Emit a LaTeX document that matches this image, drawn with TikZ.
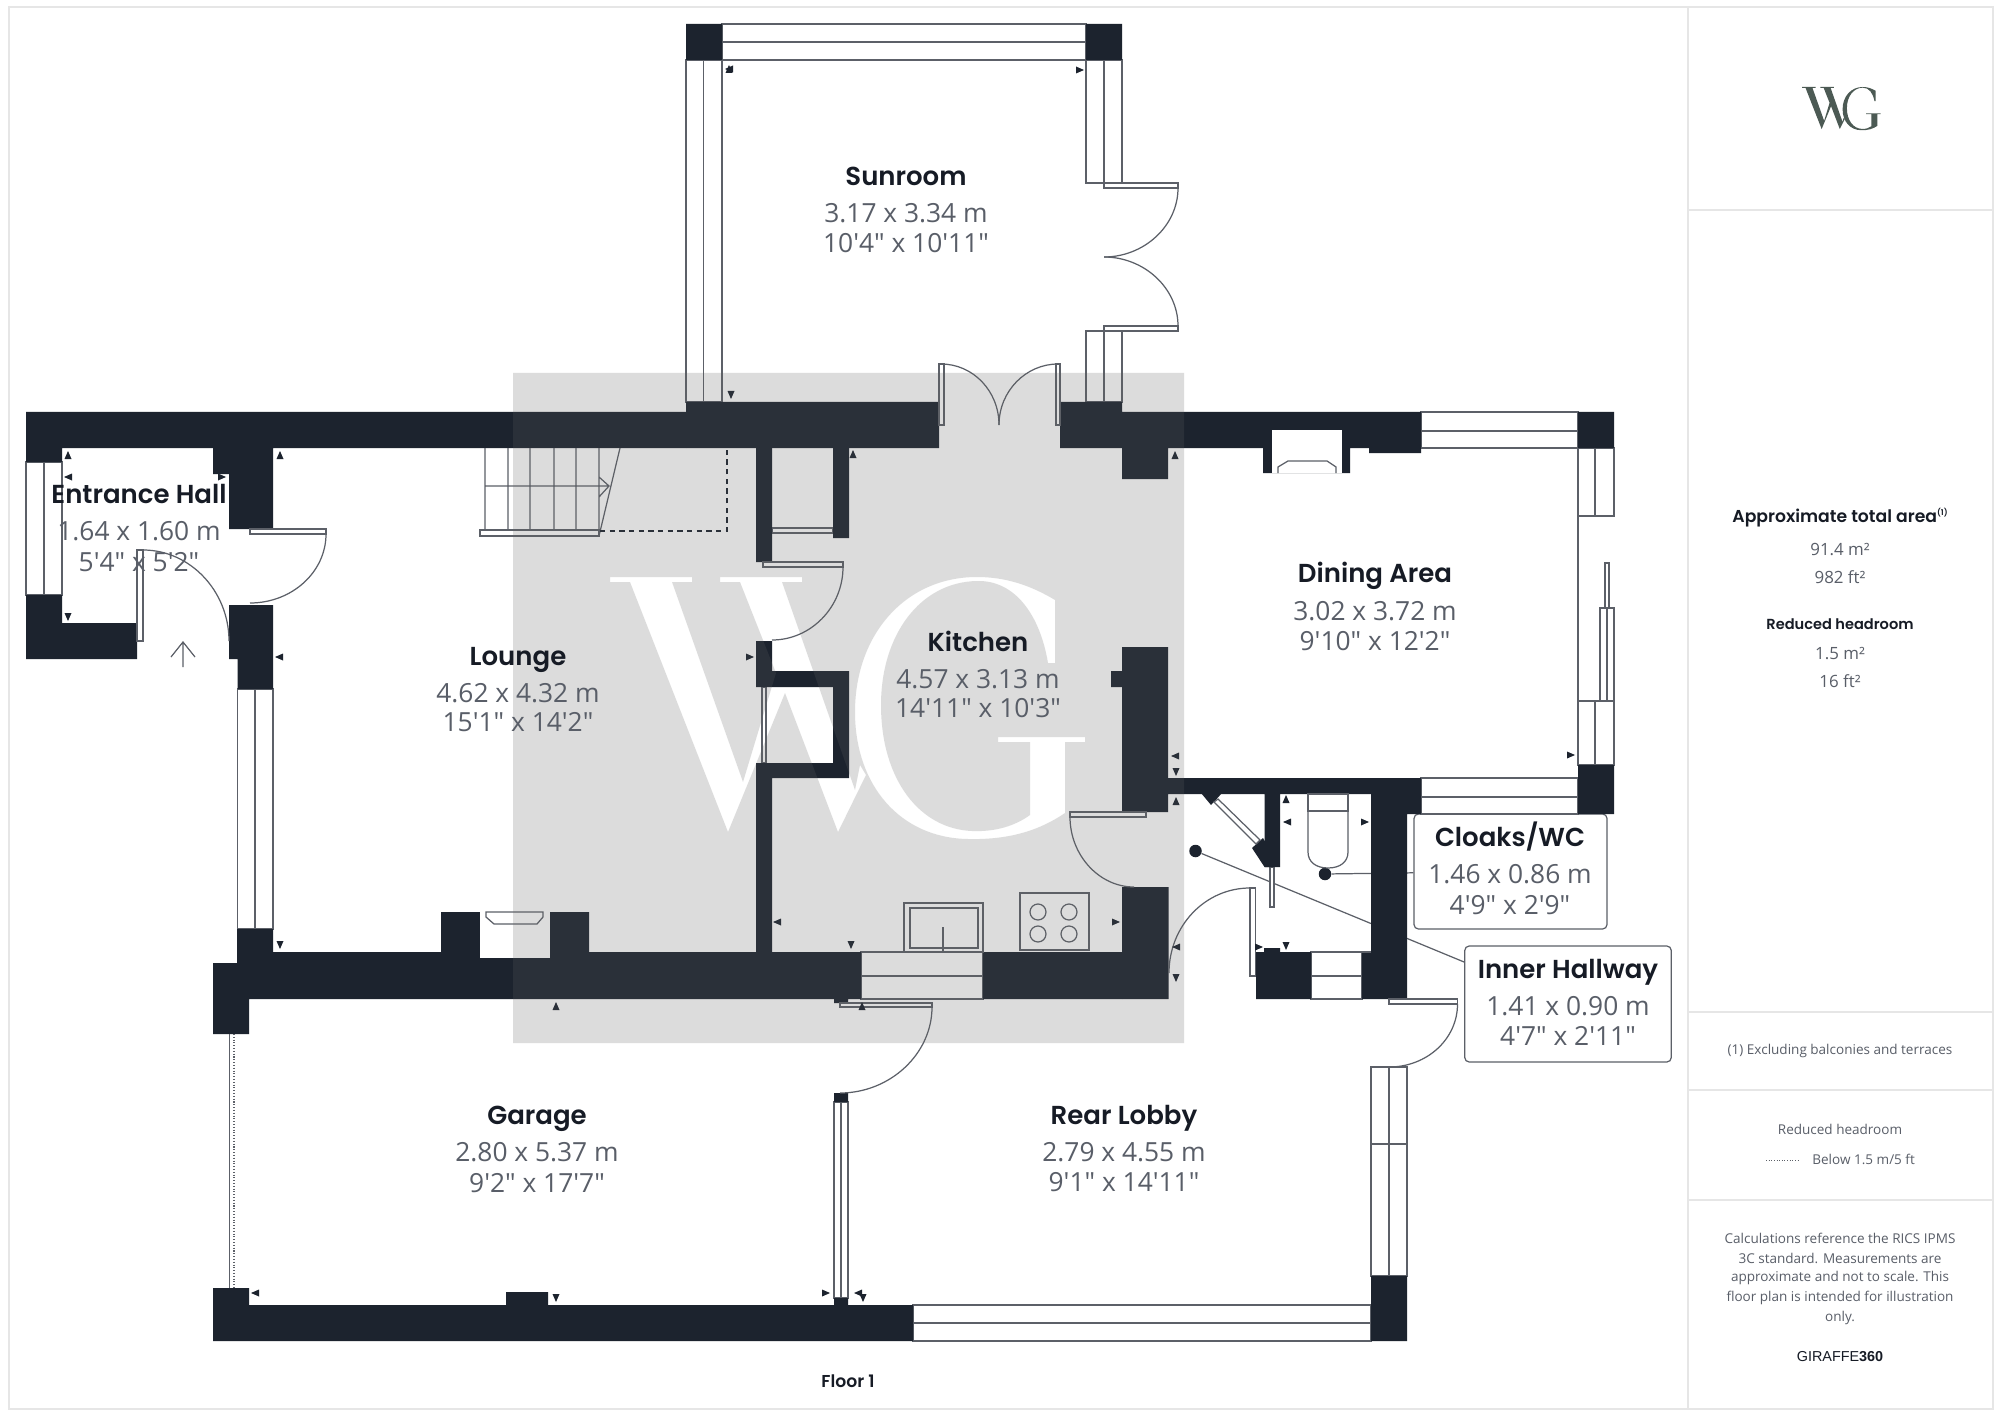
\documentclass[tikz,border=0pt]{standalone}
\usepackage{fontspec}
\usepackage{xcolor}
\usepackage{tikz}
\setmainfont{Open Sans}[Ligatures=TeXOff]
\newfontfamily\headfont{Poppins}[BoldFont={Poppins SemiBold}]
\newfontfamily\brandfont{Liberation Sans}
\definecolor{wallc}{HTML}{1C232E}
\definecolor{linec}{HTML}{5C6068}
\definecolor{framec}{HTML}{E6E6E6}
\definecolor{namec}{HTML}{161B25}
\definecolor{sizec}{HTML}{595E68}
\definecolor{shadec}{HTML}{616161}
\definecolor{logoc}{HTML}{4C5A54}
\tikzset{
  wall/.style={fill=wallc, draw=none},
  win/.style={draw=linec, line width=0.7pt, fill=white},
  doorline/.style={draw=linec, line width=0.7pt},
  frameline/.style={draw=framec, line width=1pt},
  roomname/.style={text=namec, inner sep=0pt, text height=10.6pt, text depth=0pt, font=\headfont\bfseries\fontsize{14.8}{16}\selectfont},
  roomsize/.style={text=sizec, inner sep=0pt, font=\fontsize{15}{17}\selectfont},
  panelname/.style={text=namec, inner sep=0pt, text height=7pt, text depth=0pt, font=\headfont\bfseries\fontsize{9.8}{11}\selectfont},
  paneltext/.style={text=sizec, inner sep=0pt, text height=7pt, text depth=0pt, font=\fontsize{9.6}{11}\selectfont},
  panelnote/.style={text=sizec, inner sep=0pt, font=\fontsize{7.7}{9}\selectfont},
  labbox/.style={draw=linec, line width=0.7pt, fill=white, rounded corners=2.5pt, inner sep=0pt},
  fixdot/.style={circle, fill=wallc, inner sep=0pt, minimum size=0.25cm}
}
\newcommand{\tipup}[2]{\fill[wall] (#1,#2-4) -- (#1+3.5,#2+4) -- (#1-3.5,#2+4) -- cycle;}
\newcommand{\tipdn}[2]{\fill[wall] (#1,#2+4) -- (#1+3.5,#2-4) -- (#1-3.5,#2-4) -- cycle;}
\newcommand{\tiplf}[2]{\fill[wall] (#1-4,#2) -- (#1+4,#2-3.5) -- (#1+4,#2+3.5) -- cycle;}
\newcommand{\tiprt}[2]{\fill[wall] (#1+4,#2) -- (#1-4,#2-3.5) -- (#1-4,#2+3.5) -- cycle;}
\def\wgshape{
  (610,577) -- (692,577) -- (692,582) -- (672,582) -- (743,782) -- (776,673) -- (740,582)
  -- (720,582) -- (720,577) -- (802,577) -- (802,582) -- (782,582) -- (855,790) -- (860,765)
  -- (866,775) -- (838,832) -- (785,693) -- (728,832) -- (630,582) -- (610,582) -- cycle
  (1055,600) .. controls (1030,585) and (1005,577) .. (977,577)
  .. controls (905,577) and (855,635) .. (855,712)
  .. controls (855,785) and (900,838) .. (968,839)
  .. controls (1010,840) and (1040,830) .. (1065,813)
  -- (1065,742) -- (1085,742) -- (1085,737) -- (998,737) -- (998,742) -- (1030,742)
  -- (1030,815) .. controls (1015,826) and (995,832) .. (972,831)
  .. controls (920,829) and (881,780) .. (881,705)
  .. controls (881,635) and (920,582) .. (977,581)
  .. controls (1015,580) and (1040,615) .. (1048,663)
  -- (1055,663) -- cycle
}

\begin{document}
\begin{tikzpicture}[x=0.02cm, y=-0.02cm]
  \useasboundingbox (0,0) rectangle (2000,1415);
  \fill[white] (0,0) rectangle (2000,1415);

  % frame and side panel
  \draw[frameline] (9,7) rectangle (1993,1409);
  \draw[frameline] (1688,7) -- (1688,1409);
  \draw[frameline] (1688,210) -- (1993,210);
  \draw[frameline] (1688,1012) -- (1993,1012);
  \draw[frameline] (1688,1090) -- (1993,1090);
  \draw[frameline] (1688,1200) -- (1993,1200);

  \node[labbox, minimum width=3.86cm, minimum height=2.3cm] (cloaksbox) at (1510.5,871.5) {};
  \node[labbox, minimum width=4.13cm, minimum height=2.32cm] (hallbox) at (1568,1004) {};
  \node[fixdot] (wcdot) at (1325,874) {};
  \node[fixdot] (halldot) at (1195.5,851) {};
  \draw[doorline] (wcdot) -- (cloaksbox);
  \draw[doorline] (halldot) -- (hallbox.158);

  % windows
  \draw[win] (26,462) rectangle (62,595) (44,462) -- (44,595);
  \draw[win] (237.5,689) rectangle (273,929) (255,689) -- (255,929);
  \draw[win] (722,24) rectangle (1086,60) (722,42) -- (1086,42);
  \draw[win] (686,60) rectangle (722,402) (703.5,60) -- (703.5,402);
  \draw[win] (1086,60) rectangle (1122,183) (1104,60) -- (1104,183);
  \draw[win] (1086,331) rectangle (1122,402) (1104,331) -- (1104,402);
  \draw[win] (1421,412) rectangle (1578,448) (1421,431) -- (1578,431);
  \draw[win] (1578,448) rectangle (1614,516) (1595,448) -- (1595,516);
  \draw[win] (1578,701) rectangle (1614,765) (1595,701) -- (1595,765);
  \draw[win] (1421,778) rectangle (1578,814) (1421,797) -- (1578,797);
  \draw[win] (1600,608) rectangle (1614,701) (1607,608) -- (1607,701);
  \draw[win] (1605,563) rectangle (1609,608);
  \draw[doorline] (1578,516) -- (1578,701);
  \draw[win] (861,952) rectangle (983,999) (861,976) -- (983,976);
  \draw[win] (1311,952) rectangle (1362,999) (1311,976) -- (1362,976);
  \draw[doorline] (1362,952) -- (1371,952);
  \draw[win] (834,1102) rectangle (848,1298) (841,1102) -- (841,1298);
  \draw[win] (913,1305) rectangle (1371,1341) (913,1323) -- (1371,1323);
  \draw[win] (1371,1067) rectangle (1407,1276) (1389,1067) -- (1389,1276) (1371,1144) -- (1407,1144);
  \draw[win] (772,528) rectangle (833,533);
  \draw[win] (762,687) rectangle (766,763);
  \draw[win] (1270,867) rectangle (1274,907);

  % walls
  \fill[wall] (26,412) rectangle (686,448) (26,448) rectangle (62,462) (26,595) rectangle (62,659)
    (62,623) rectangle (137,659) (213,448) rectangle (273,474) (229,474) rectangle (273,529)
    (229,605) rectangle (273,659) (237.5,659) rectangle (273,689);
  \fill[wall] (686,402) rectangle (939,448) (1060,402) rectangle (1122,448) (1122,412) rectangle (1421,448)
    (1122,448) rectangle (1168,479) (1369,448) rectangle (1421,453) (1263,448) rectangle (1350,473)
    (686,24) rectangle (722,60) (1086,24) rectangle (1122,60) (1578,412) rectangle (1614,448)
    (1578,765) rectangle (1614,814);
  \fill[wall] (1168,778) rectangle (1421,794) (1371,794) rectangle (1421,814) (1371,814) rectangle (1407,999)
    (1122,647) rectangle (1168,812) (1111,671) rectangle (1122,687) (1122,887) rectangle (1168.5,999)
    (1264.5,794) rectangle (1280,867) (1256,952) rectangle (1311,999) (1264,948) rectangle (1280,952)
    (1362,952) rectangle (1371,999);
  \fill[wall] (237,952) rectangle (861,999) (983,952) rectangle (1122,999) (237,929) rectangle (273,952)
    (213,963) rectangle (249,1034) (441,912) rectangle (589,952) (213,1305) rectangle (913,1341)
    (213,1288) rectangle (249,1305) (506,1292) rectangle (548,1305) (834,1298) rectangle (848,1305)
    (834,1093) rectangle (848,1102) (834,999) rectangle (848,1003) (1371,1276) rectangle (1407,1341);
  \fill[wall] (756,448) rectangle (772,562) (833,448) rectangle (849,538) (756,641) rectangle (772,687)
    (756,671) rectangle (849,687) (833,671) rectangle (849,778) (756,763) rectangle (849,778)
    (756,763) rectangle (772,952);
  \fill[wall] (1201,793) -- (1222,793) -- (1211,805) -- cycle;
  \fill[wall] (1252,848) -- (1263,838) -- (1270,850) -- (1270,867) -- (1264.5,867) -- cycle;
  \draw[win] (1214,802) -- (1218,799) -- (1260,840) -- (1256,844) -- cycle;

  % fireplaces
  \fill[white] (1272,430) rectangle (1342,473);
  \draw[doorline] (1278,473) -- (1278,467) -- (1288,461) -- (1327,461) -- (1336,467) -- (1336,473);
  \fill[white] (480,912) rectangle (549.5,958);
  \draw[doorline] (486,912) -- (486,917) -- (494,924) -- (537,924) -- (543,917) -- (543,912) -- cycle;

  % doors
  \draw[win] (250,529) rectangle (326,534);
  \draw[doorline] (326,534) .. controls +(0,38) and +(42,0) .. (250,603);
  \draw[win] (137,550) rectangle (143,641);
  \draw[doorline] (143,550) .. controls +(47,0) and +(0,-50) .. (229,641);
  \draw[win] (939,364) rectangle (944,425);
  \draw[win] (1056,364) rectangle (1060,425);
  \draw[doorline] (941,364) .. controls +(32,0) and +(0,-34) .. (999,425);
  \draw[doorline] (1058,364) .. controls +(-32,0) and +(0,-34) .. (999,425);
  \draw[win] (1104,183) rectangle (1178,188);
  \draw[win] (1104,326) rectangle (1178,331);
  \draw[doorline] (1178,188) .. controls +(0,38) and +(40,0) .. (1104,257);
  \draw[doorline] (1178,326) .. controls +(0,-38) and +(40,0) .. (1104,257);
  \draw[win] (763,562) rectangle (843,567);
  \draw[doorline] (843,567) .. controls +(0,40) and +(39,0) .. (772,640);
  \draw[win] (1070,812) rectangle (1146,817);
  \draw[doorline] (1070,817) .. controls +(0,38) and +(-35,0) .. (1134,887);
  \draw[win] (1250,888) rectangle (1255.5,976);
  \draw[doorline] (1250,888) .. controls +(-45,0) and +(0,-47) .. (1169,973);
  \draw[win] (840,1003) rectangle (932,1007);
  \draw[doorline] (932,1007) .. controls +(0,47) and +(50,0) .. (840,1093);
  \draw[win] (1389,999) rectangle (1457.5,1004);
  \draw[doorline] (1457.5,1004) .. controls +(0,35) and +(38,0) .. (1389,1067);

  % entrance arrow and garage door
  \draw[doorline] (183,667) -- (183,642) (171,657) -- (183,642) -- (195,657);
  \draw[doorline, line width=0.5pt] (229,1034) -- (229,1288);
  \draw[doorline, line width=0.6pt, densely dotted] (234,1034) -- (234,1288);

  % stairs
  \draw[doorline] (485,448) -- (485,530) (508,448) -- (508,530) (530,448) -- (530,530)
    (554,448) -- (554,530) (576,448) -- (576,530) (599,448) -- (599,530)
    (485,486) -- (609,486) (599,477) -- (609,486) -- (599,497) (620,448) -- (599,536);
  \draw[win] (480,530) rectangle (599,536);
  \draw[line width=1pt, dash pattern=on 3pt off 2.5pt, wallc] (600,531) -- (727,531) -- (727,448);

  % sink and hob
  \draw[doorline] (904,903) rectangle (983,952) (910,908) rectangle (978,948) (943,927) -- (943,952);
  \draw[doorline] (1020,893) rectangle (1089,950);
  \draw[doorline] (1038,912) circle (8) (1069,912) circle (8) (1038,934) circle (8) (1069,934) circle (8);

  % toilet
  \draw[doorline] (1308,794) rectangle (1348,811);
  \draw[doorline] (1308,811) -- (1308,852) .. controls +(0,10) and +(-12,0) .. (1328,868)
    .. controls +(12,0) and +(0,10) .. (1348,852) -- (1348,811);
  \draw[doorline] (1311,952) -- (1371,952);

  % measure ticks
  \tipup{68}{455} \tiplf{68}{477} \tipdn{68}{617} \tiprt{222}{477} \tipup{280}{455} \tiplf{279}{657}
  \tiplf{729}{69} \tipup{729}{69} \tiprt{1080}{70} \tipdn{731}{395} \tipup{853}{454} \tipup{1175}{455}
  \tiplf{1175}{756} \tipdn{1176}{772} \tipup{1176}{801} \tipup{1286}{799} \tiplf{1287}{822}
  \tiprt{1365}{822} \tiprt{1571}{755} \tiprt{750}{657} \tiprt{1116}{922} \tiplf{1176}{947}
  \tipdn{1176}{978} \tiprt{1259}{947} \tipdn{1286}{946} \tipdn{280}{945} \tiplf{777}{922}
  \tipdn{851}{945} \tipup{556}{1006} \tipup{862}{1006} \tiplf{255}{1293} \tipdn{556}{1298}
  \tiprt{826}{1293} \tiplf{858}{1293} \tipdn{863}{1298}

  % shaded sheet with letters cut out
  \fill[shadec, fill opacity=0.216, even odd rule] (513,373) rectangle (1184,1043) \wgshape;

  % logo
  \begin{scope}[shift={(1802,87)}, scale=0.165, shift={(-609,-577)}]
    \fill[logoc] \wgshape;
  \end{scope}

  % rooms
  \node[roomname] (sunroomname) at (906,176) {Sunroom};
  \node[roomsize] (sunroomm) at (906,213) {3.17 x 3.34 m};
  \node[roomsize] (sunroomft) at (906,243) {10'4" x 10'11"};
  \node[roomname] (entrancename) at (139,494) {Entrance Hall};
  \node[roomsize] (entrancem) at (139,531) {1.64 x 1.60 m};
  \node[roomsize] (entranceft) at (139,562) {5'4" x 5'2"};
  \node[roomname] (loungename) at (518,656) {Lounge};
  \node[roomsize] (loungem) at (518,693) {4.62 x 4.32 m};
  \node[roomsize] (loungeft) at (518,722) {15'1" x 14'2"};
  \node[roomname] (kitchenname) at (978,642) {Kitchen};
  \node[roomsize] (kitchenm) at (978,679) {4.57 x 3.13 m};
  \node[roomsize] (kitchenft) at (978,708) {14'11" x 10'3"};
  \node[roomname] (diningname) at (1375,573) {Dining Area};
  \node[roomsize] (diningm) at (1375,611) {3.02 x 3.72 m};
  \node[roomsize] (diningft) at (1375,641) {9'10" x 12'2"};
  \node[roomname] (cloaksname) at (1510,837) {Cloaks/WC};
  \node[roomsize] (cloaksm) at (1510,874) {1.46 x 0.86 m};
  \node[roomsize] (cloaksft) at (1510,905) {4'9" x 2'9"};
  \node[roomname] (hallname) at (1568,969) {Inner Hallway};
  \node[roomsize] (hallm) at (1568,1006) {1.41 x 0.90 m};
  \node[roomsize] (hallft) at (1568,1036) {4'7" x 2'11"};
  \node[roomname] (garagename) at (537,1115) {Garage};
  \node[roomsize] (garagem) at (537,1152) {2.80 x 5.37 m};
  \node[roomsize] (garageft) at (537,1183) {9'2" x 17'7"};
  \node[roomname] (lobbyname) at (1124,1115) {Rear Lobby};
  \node[roomsize] (lobbym) at (1124,1152) {2.79 x 4.55 m};
  \node[roomsize] (lobbyft) at (1124,1182) {9'1" x 14'11"};
  \node[panelname] (floorname) at (848,1381) {Floor 1};

  % panel text
  \node[panelname] (areaname) at (1840,516) {Approximate total area\raisebox{4pt}{\fontsize{4.5}{5}\selectfont (1)}};
  \node[paneltext] (aream) at (1840,549) {91.4 m²};
  \node[paneltext] (areaft) at (1840,577) {982 ft²};
  \node[panelname, font=\headfont\bfseries\fontsize{8.3}{10}\selectfont] (reducedname) at (1840,623) {Reduced headroom};
  \node[paneltext] (reducedm) at (1840,653) {1.5 m²};
  \node[paneltext] (reducedft) at (1840,681) {16 ft²};
  \node[panelnote] (excluding) at (1840,1051) {(1) Excluding balconies and terraces};
  \node[panelnote] (legendname) at (1840,1129) {Reduced headroom};
  \draw[linec, line width=0.5pt, densely dotted] (1766,1160) -- (1800,1160);
  \node[panelnote, anchor=west] (legendtext) at (1812,1159) {Below 1.5 m/5 ft};
  \node[panelnote] (calc1) at (1840,1238) {Calculations reference the RICS IPMS};
  \node[panelnote] (calc2) at (1840,1258) {3C standard. Measurements are};
  \node[panelnote] (calc3) at (1840,1278) {approximate and not to scale. This};
  \node[panelnote] (calc4) at (1840,1298) {floor plan is intended for illustration};
  \node[panelnote] (calc5) at (1840,1318) {only.};
  \node[panelnote, text=namec, font=\brandfont\fontsize{8.2}{10}\selectfont] (giraffe) at (1840,1357) {GIRAFFE\textbf{360}};
\end{tikzpicture}
\end{document}
